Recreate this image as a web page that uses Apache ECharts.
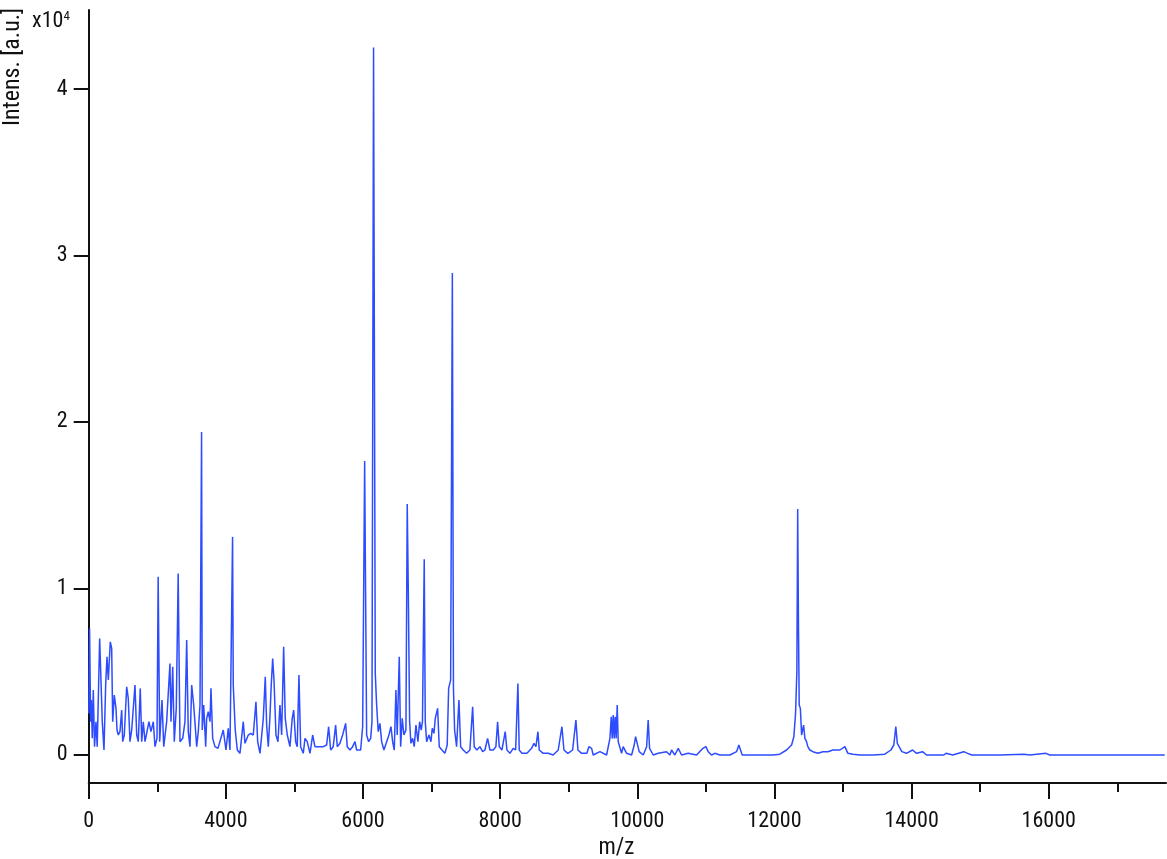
<!DOCTYPE html>
<html>
<head>
<meta charset="utf-8">
<script src="https://cdn.jsdelivr.net/npm/echarts@6/dist/echarts.min.js"></script>
<style>
  html, body { margin: 0; padding: 0; background: #fff; }
  #chart { width: 1167px; height: 859px; }
</style>
</head>
<body>
<div id="chart"></div>
<script>
var mz = [
  2001,2013,2028,2038,2052,2067,2085,2106,2124,2160,2179,2198,2223,2248,2267,2286,2315,2335,2350,2373,
  2398,2413,2432,2456,2481,2496,2519,2554,2577,2602,2627,2650,2675,2700,2723,2752,2773,2796,2821,2879,
  2908,2942,2967,2996,3013,3035,3069,3094,3137,3185,3200,3225,3248,3277,3305,3331,3371,3404,3429,3452,
  3477,3502,3531,3575,3598,3623,3646,3656,3677,3706,3720,3744,3769,3783,3808,3841,3885,3914,3962,4002,
  4035,4060,4098,4108,4137,4167,4206,4254,4279,4327,4362,4400,4439,4464,4498,4546,4575,4595,4619,4643,
  4662,4683,4702,4731,4760,4789,4814,4843,4866,4896,4935,4968,4989,5018,5041,5066,5091,5129,5154,5187,
  5227,5266,5299,5348,5420,5470,5499,5528,5566,5601,5625,5664,5703,5747,5770,5810,5849,5883,5907,5966,
  5995,6024,6053,6082,6112,6131,6154,6179,6199,6222,6247,6272,6305,6345,6378,6408,6432,6456,6480,6499,
  6529,6549,6572,6597,6626,6645,6660,6680,6699,6724,6747,6772,6801,6826,6849,6867,6893,6908,6928,6962,
  6991,7010,7035,7054,7088,7112,7151,7195,7228,7249,7278,7303,7319,7336,7365,7399,7424,7462,7511,7559,
  7599,7622,7661,7705,7745,7778,7817,7851,7899,7938,7963,7987,8026,8074,8099,8143,8191,8226,8259,8278,
  8318,8391,8459,8493,8522,8551,8570,8628,8701,8774,8847,8901,8930,8988,9057,9105,9134,9188,9265,9294,
  9334,9357,9455,9552,9601,9620,9634,9649,9663,9678,9692,9707,9722,9771,9794,9844,9917,9955,9975,10004,
  10028,10086,10136,10159,10179,10232,10305,10427,10476,10500,10548,10597,10646,10742,10865,10957,11000,11034,11083,11131,
  11204,11350,11448,11481,11506,11530,11594,11690,11788,11885,11981,12079,12177,12250,12283,12308,12327,12339,12350,12361,
  12378,12396,12425,12444,12468,12487,12517,12561,12634,12707,12780,12852,12955,13027,13071,13144,13246,13440,13610,13698,
  13741,13770,13792,13814,13858,13926,14014,14072,14160,14218,14310,14470,14503,14600,14760,14818,14878,15287,15637,15724,
  15957,16016,16453,17036,17692
];
var intens = [
  2500,7600,2000,3300,1000,3900,500,2000,500,7000,4500,2000,300,4300,5900,4500,6800,6400,2000,3600,
  2800,1500,1200,1400,2700,800,1200,4100,3400,800,1500,1500,4200,1200,800,4000,800,2000,800,2000,
  1400,2000,500,1000,10700,800,3300,500,2000,5500,2000,5300,800,2800,10900,800,1000,2000,6900,1400,
  500,4200,3000,500,1400,3000,19400,1500,3000,500,2200,2600,2000,4000,1000,500,400,400,1500,300,
  1600,300,13100,4200,1500,300,100,2000,700,1200,1300,1200,3200,800,100,2200,4700,1800,500,2300,
  4200,5800,4500,1200,800,3000,1200,6500,2200,1200,500,2200,2700,800,500,4800,500,100,1000,800,
  100,1200,500,500,500,600,1700,300,500,1800,500,700,1200,1900,500,300,500,800,300,300,
  1700,17650,1200,800,1000,2000,42500,4900,3000,1400,1900,800,300,800,1200,1700,800,300,3900,1200,
  5900,500,2200,1200,1500,15070,10100,2000,700,1000,500,1800,800,2000,1500,2000,11750,2000,800,1200,
  800,1600,1300,2200,2800,500,300,100,600,4000,4500,28950,4000,1500,500,3300,500,300,100,300,
  2900,500,300,500,200,300,1000,300,300,500,2000,500,300,1400,300,100,400,300,4300,300,
  100,100,400,700,500,1400,300,100,100,0,300,1700,300,100,300,2100,300,100,100,500,
  400,0,200,0,1000,2300,1000,2400,1000,2300,1000,3000,800,100,500,100,0,600,1100,1100,
  200,0,500,2100,400,0,100,200,0,300,0,400,0,100,0,400,500,200,0,100,
  0,0,200,600,700,0,0,0,0,0,0,50,300,600,1100,2500,5000,14770,8000,3000,
  2800,1200,1800,1000,800,500,300,200,100,200,200,300,300,500,100,50,0,0,50,300,
  600,1700,700,600,200,100,300,100,200,0,0,0,100,0,200,100,0,0,50,0,
  100,0,0,0,0
];
var xTickValues = [2000,4000,6000,8000,10000,12000,14000,16000];
var xTickLabels = ['0','4000','6000','8000','10000','12000','14000','16000'];
var xMinorValues = [3000,5000,7000,9000,11000,13000,15000,17000];
var yTickValues = [0,10000,20000,30000,40000];
var yTickLabels = ['0','1','2','3','4'];

var FONT = '"Roboto Condensed", "DejaVu Sans Condensed", sans-serif';
var INK = '#111111';

var seriesData = mz.map(function (m, i) { return [m, intens[i]]; });

var chart = echarts.init(document.getElementById('chart'), null, { renderer: 'canvas' });
chart.setOption({
  animation: false,
  backgroundColor: '#ffffff',
  grid: { left: 88.7, right: 1, top: 10, bottom: 76, outerBoundsMode: 'none', containLabel: false },
  xAxis: [
    {
      type: 'value', min: 2000, max: 17710, position: 'bottom',
      name: 'm/z', nameLocation: 'middle', nameGap: 48,
      nameTextStyle: { fontFamily: FONT, fontSize: 23, color: INK, padding: [0, 22, 0, 0] },
      axisLine: { show: true, onZero: false, lineStyle: { color: INK, width: 2 } },
      axisTick: { show: true, customValues: xTickValues, length: 16, lineStyle: { color: INK, width: 2 } },
      axisLabel: {
        show: true, customValues: xTickValues, margin: 27,
        fontFamily: FONT, fontSize: 22, color: INK,
        formatter: function (v) { var i = xTickValues.indexOf(v); return i >= 0 ? xTickLabels[i] : ''; }
      },
      splitLine: { show: false }
    },
    {
      type: 'value', min: 2000, max: 17710, position: 'bottom',
      axisLine: { show: false, onZero: false },
      axisTick: { show: true, customValues: xMinorValues, length: 9, lineStyle: { color: INK, width: 2 } },
      axisLabel: { show: false },
      splitLine: { show: false }
    }
  ],
  yAxis: {
    type: 'value', min: -1682, max: 44745,
    axisLine: { show: true, onZero: false, lineStyle: { color: INK, width: 2 } },
    axisTick: { show: true, customValues: yTickValues, length: 15, lineStyle: { color: INK, width: 2 } },
    axisLabel: {
      show: true, customValues: yTickValues, margin: 21,
      fontFamily: FONT, fontSize: 22, color: INK,
      formatter: function (v) { var i = yTickValues.indexOf(v); return i >= 0 ? yTickLabels[i] : ''; }
    },
    splitLine: { show: false }
  },
  graphic: [
    {
      type: 'text', x: 13, y: 67, rotation: Math.PI / 2,
      style: { text: 'Intens. [a.u.]', fontFamily: FONT, fontSize: 24, fill: INK, align: 'center', verticalAlign: 'middle' }
    },
    {
      type: 'text', x: 32, y: 10,
      style: {
        text: 'x10{s|4}', fontFamily: FONT, fontSize: 22, fill: INK, align: 'left', verticalAlign: 'top',
        rich: { s: { fontFamily: FONT, fontSize: 13, fill: INK, verticalAlign: 'top' } }
      }
    }
  ],
  series: [{
    type: 'line',
    data: seriesData,
    showSymbol: false,
    symbol: 'none',
    sampling: null,
    lineStyle: { color: '#2d4bff', width: 1.5 },
    emphasis: { disabled: true }
  }]
});
</script>
</body>
</html>
